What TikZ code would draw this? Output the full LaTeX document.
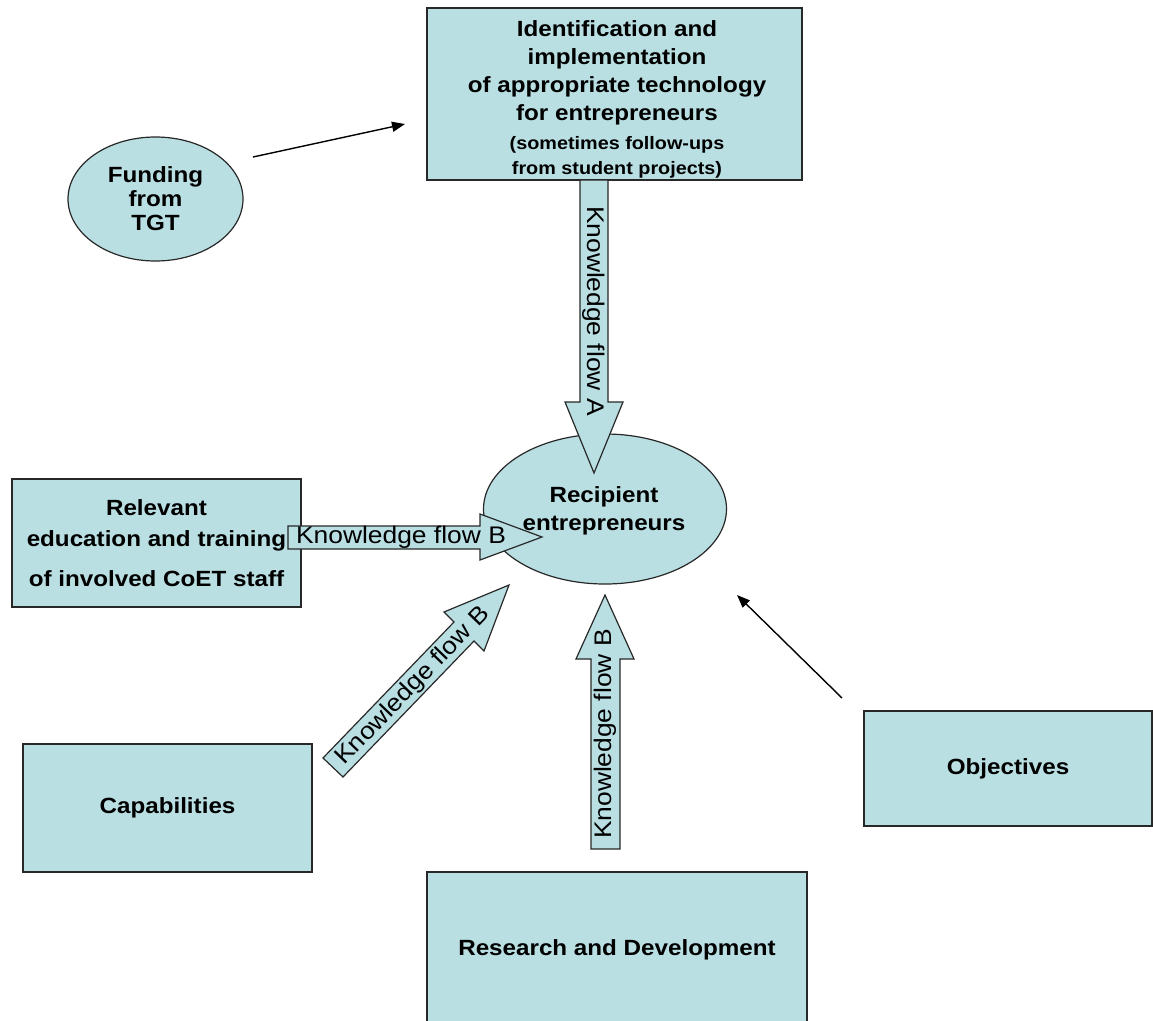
\documentclass[tikz,border=0pt]{standalone}
\usepackage{fontspec}
\setmainfont{Liberation Sans}[FakeStretch=1.1]
\usetikzlibrary{shapes.geometric,arrows.meta}
\definecolor{boxfill}{RGB}{185,223,227}
\definecolor{edgecol}{RGB}{40,40,40}
\newcommand\smallline{\fontsize{18}{25}\selectfont}
\begin{document}
\begin{tikzpicture}[x=1pt,y=-1pt,
  boxnode/.style={draw=edgecol,line width=1.3pt,fill=boxfill,rectangle,inner sep=0pt,align=center,font=\fontsize{22}{28}\selectfont\bfseries},
  ellnode/.style={draw=edgecol,line width=1.2pt,fill=boxfill,ellipse,inner sep=0pt,align=center,font=\fontsize{22}{28}\selectfont\bfseries},
  blockarrow/.style={draw=edgecol,line width=1.2pt,fill=boxfill,line join=miter},
  flowlabel/.style={inner sep=0pt,font=\fontsize{24}{28}\selectfont},
  thinarrow/.style={draw=black,line width=1.4pt,-{Triangle[length=13pt,width=10pt]}}]
\useasboundingbox (0,0) rectangle (1153,1020);
\fill[white] (0,0) rectangle (1153,1020);

% boxes
\node[boxnode,minimum width=375pt,minimum height=172pt] (tech) at (614.5,94) {};
\node[inner sep=0pt,align=center,font=\fontsize{22}{28}\selectfont\bfseries] (techtext) at (617,99)
  {Identification and\\implementation\\of appropriate technology\\for entrepreneurs\\[1pt]
   \smallline (sometimes follow-ups\\[-3pt] \smallline from student projects)};
\node[ellnode,minimum width=175pt,minimum height=124pt,font=\fontsize{22}{24}\selectfont\bfseries] (fund) at (155.5,199)
  {Funding\\from\\TGT};
\node[ellnode,minimum width=243pt,minimum height=150pt] (recip) at (605,509) {};
\node[inner sep=0pt,align=center,font=\fontsize{22}{28}\selectfont\bfseries] (reciptext) at (604,511)
  {Recipient\\entrepreneurs};
\node[boxnode,minimum width=289pt,minimum height=128pt] (edu) at (156.5,543)
  {Relevant\\[3pt]education and training\\[12pt]of involved CoET staff};
\node[boxnode,minimum width=289pt,minimum height=128pt] (cap) at (167.5,808) {Capabilities};
\node[boxnode,minimum width=288pt,minimum height=115pt] (obj) at (1008,768.5) {Objectives};
\node[boxnode,minimum width=380pt,minimum height=156pt] (rd) at (617,950) {Research and Development};

% block arrows
\draw[blockarrow] (580,180) -- (580,402) -- (565,402) -- (594,473) -- (623,402) -- (608,402) -- (608,180) -- cycle;
\node[flowlabel,rotate=-90] (flowA) at (594,311) {Knowledge flow A};

\draw[blockarrow] (288,526) -- (480,526) -- (480,514) -- (542,537) -- (480,560) -- (480,549) -- (288,549) -- cycle;
\node[flowlabel] (flowB1) at (401,537) {Knowledge flow B};

\draw[blockarrow] (591,849) -- (591,659) -- (576,659) -- (605,595) -- (634,659) -- (620,659) -- (620,849) -- cycle;
\node[flowlabel,rotate=90] (flowB2) at (605,734) {Knowledge flow B};

\draw[blockarrow] (323,758) -- (454,622) -- (444,612) -- (509,585) -- (484,651) -- (474,641) -- (343,777) -- cycle;
\node[flowlabel,rotate=46] (flowB3) at (413,686) {Knowledge flow B};

% thin arrows
\coordinate (f1) at (253,157);
\coordinate (f2) at (405,124);
\draw[thinarrow] (f1) -- (f2);
\coordinate (o1) at (842,698);
\coordinate (o2) at (737,595);
\draw[thinarrow] (o1) -- (o2);
\end{tikzpicture}
\end{document}
